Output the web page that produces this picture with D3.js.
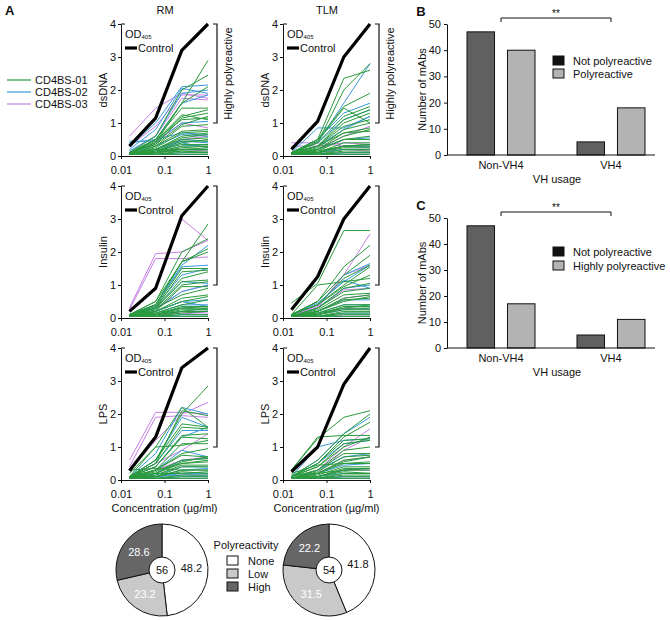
<!DOCTYPE html>
<html><head><meta charset="utf-8">
<script src="https://cdn.jsdelivr.net/npm/d3@7/dist/d3.min.js"></script>
<style>
body{margin:0;background:#fff}
svg text{font-family:"Liberation Sans",Arial,sans-serif;fill:#111}
</style></head>
<body><svg id="c" width="670" height="620"></svg>
<script>
// ---------- DATA ----------
const concentrations = [0.015625, 0.0625, 0.25, 1];
const xTicks = [0.01, 0.1, 1];
const yTicks = [0, 1, 2, 3, 4];
const groups = ["CD4BS-01", "CD4BS-02", "CD4BS-03"];
const antigens = ["dsDNA", "Insulin", "LPS"];
const sources = ["RM", "TLM"];

// control curves (OD405)
const ctrlRM = [[0.3,1.15,3.2,4.0],[0.2,0.9,3.1,4.0],[0.28,1.3,3.4,4.0]];
const ctrlTLM = [[0.2,1.05,3.0,4.0],[0.25,1.25,3.0,4.0],[0.25,1.0,2.9,4.0]];

// each mAb: [group(1..3), OD at the 4 concentrations]
const rmDsDNA = [
[3,.6,1.45,1.9,1.75],[3,.3,.9,1.85,1.85],[3,.15,.6,1.75,1.7],[3,.1,.4,1.0,.85],[3,.05,.2,.5,.6],[3,.05,.1,.2,.15],
[2,.3,1.0,2.1,2.15],[2,.2,.8,2.05,1.9],[2,.15,.6,1.9,2.0],[2,.1,.5,1.6,1.85],[2,.45,.45,1.0,1.05],[2,.4,.5,.7,.65],
[2,.1,.3,.65,.6],[2,.1,.2,.45,.4],[2,.05,.1,.3,.35],[2,.05,.1,.2,.2],[2,.05,.05,.1,.1],[2,.05,.15,.4,.25],[2,.05,.1,.5,.45],[2,.05,.05,.05,.05],
[1,.1,.5,1.6,2.9],[1,.1,.6,2.0,2.45],[1,.1,.4,1.6,2.1],[1,.1,.5,1.45,1.45],[1,.1,.4,1.2,1.4],[1,.1,.35,1.15,1.3],[1,.1,.45,1.25,1.1],
[1,.05,.5,1.1,1.15],[1,.1,.35,.95,1.2],[1,.05,.3,.75,.8],[1,.05,.25,.7,.75],[1,.05,.2,.6,.7],[1,.05,.2,.5,.55],[1,.05,.15,.45,.45],
[1,.05,.1,.4,.5],[1,.05,.15,.35,.35],[1,.05,.1,.3,.3],[1,.05,.1,.25,.3],[1,.05,.1,.2,.2],[1,.05,.05,.15,.15],[1,.05,.05,.1,.1],
[1,.05,.05,.05,.05],[1,.1,.2,.2,.25],[1,.05,.1,.15,.1],[1,.05,.3,.9,.95],[1,.05,.2,.55,.65]
];
const rmInsulin = [
[3,.3,1.95,2.0,2.35],[3,.25,1.8,1.8,1.85],[3,.2,.85,3.0,2.35],[3,.1,.3,.8,1.0],[3,.05,.1,.2,.15],[3,.05,.1,.15,.1],
[2,.1,.4,1.6,2.2],[2,.1,.4,1.55,1.6],[2,.1,.35,1.3,1.5],[2,.1,.3,1.1,1.05],[2,.05,.25,.8,1.0],[2,.05,.2,.5,.55],
[2,.05,.15,.4,.4],[2,.05,.1,.3,.25],[2,.05,.1,.2,.2],[2,.05,.05,.1,.1],[2,.05,.2,.5,.35],[2,.05,.05,.05,.05],
[1,.1,.5,1.7,2.85],[1,.1,.5,2.0,2.4],[1,.1,.4,1.7,2.1],[1,.1,.4,1.7,2.0],[1,.1,.35,1.5,1.5],[1,.1,.3,1.4,1.45],[1,.1,.3,1.2,1.4],
[1,.05,.3,1.1,1.15],[1,.05,.25,1.0,1.1],[1,.05,.2,.95,.95],[1,.05,.2,.6,.7],[1,.05,.2,.5,.65],[1,.05,.15,.4,.55],[1,.05,.1,.35,.35],
[1,.05,.1,.3,.3],[1,.05,.1,.25,.25],[1,.05,.05,.2,.2],[1,.05,.05,.15,.2],[1,.05,.05,.1,.1],[1,.05,.05,.05,.05],[1,.1,.15,.3,.35],
[1,.05,.1,.2,.3],[1,.05,.3,.7,.9]
];
const rmLPS = [
[3,.6,2.05,2.05,2.0],[3,.4,1.9,1.95,1.9],[3,.3,1.2,2.0,2.35],[3,.1,.5,.9,1.4],[3,.05,.3,.6,.7],[3,.05,.1,.2,.1],
[2,.1,.8,2.2,2.0],[2,.1,.6,1.9,1.6],[2,.1,.5,1.5,1.5],[2,.1,.4,1.3,1.6],[2,.1,.3,.9,.7],[2,.05,.2,.6,.65],
[2,.05,.15,.4,.4],[2,.05,.1,.3,.35],[2,.05,.1,.2,.2],[2,.05,.05,.1,.1],[2,.05,.05,.05,.05],[2,.1,.1,.15,.15],
[1,.1,.6,2.0,2.85],[1,.1,.5,2.1,1.95],[1,.2,1.0,2.2,1.6],[1,.1,.6,1.7,1.6],[1,.1,.5,1.6,1.55],[1,.1,.4,1.35,1.4],
[1,.1,.4,1.3,1.25],[1,.1,.3,1.1,1.1],[1,.1,1.0,1.05,1.2],[1,.05,.3,.8,.95],[1,.05,.3,.75,.7],[1,.05,.25,.6,.65],
[1,.05,.2,.5,.55],[1,.05,.15,.45,.45],[1,.05,.1,.4,.4],[1,.05,.1,.3,.3],[1,.05,.1,.25,.2],[1,.05,.05,.15,.15],
[1,.05,.05,.1,.1],[1,.05,.05,.05,.05],[1,.3,.35,.3,.3],[1,.1,.2,.2,.25],[1,.05,.2,.55,.7],[1,.1,.3,.5,.6]
];
const tlmDsDNA = [
[3,.4,.4,.3,.3],[3,.3,.3,.4,.35],[3,.05,.2,.6,.9],[3,.05,.1,.3,.25],[3,.05,.1,.2,.15],[3,.05,.05,.1,.1],
[2,.1,.4,1.6,2.8],[2,.1,.85,.85,1.2],[2,.1,.5,1.3,1.6],[2,.1,.4,1.1,1.4],[2,.05,.3,.8,1.2],[2,.05,.2,.5,.55],
[2,.05,.1,.3,.3],[2,.05,.1,.2,.2],[2,.05,.05,.1,.1],[2,.05,.05,.05,.05],
[1,.1,.5,2.35,2.6],[1,.1,.4,2.0,2.8],[1,.1,.5,1.5,1.9],[1,.1,.45,1.45,1.0],[1,.1,.4,1.2,1.5],[1,.1,.3,1.1,1.4],
[1,.1,.3,1.0,1.3],[1,.05,.3,.9,1.1],[1,.05,.25,.8,1.0],[1,.05,.2,.7,.85],[1,.05,.2,.6,.8],[1,.05,.15,.5,.5],
[1,.05,.1,.4,.4],[1,.05,.1,.3,.35],[1,.05,.1,.3,.3],[1,.05,.1,.25,.25],[1,.05,.05,.2,.2],[1,.05,.05,.15,.15],
[1,.05,.05,.1,.1],[1,.05,.05,.05,.05],[1,.1,.15,.3,.35],[1,.05,.2,.5,.6],[1,.1,.3,.7,.75]
];
const tlmInsulin = [
[3,.1,.35,1.3,2.55],[3,.1,.3,1.3,1.6],[3,.05,.3,.85,.9],[3,.05,.2,.6,.7],[3,.05,.1,.3,.25],[3,.05,.05,.1,.1],
[2,.1,.5,1.3,1.65],[2,.1,.45,1.1,1.6],[2,.1,.4,1.15,.9],[2,.05,.3,.9,1.0],[2,.05,.2,.55,.55],[2,.05,.15,.4,.4],
[2,.05,.1,.25,.3],[2,.05,.05,.15,.15],[2,.05,.05,.05,.05],
[1,.45,1.05,2.65,2.65],[1,.1,.5,1.55,2.2],[1,.1,.5,1.3,1.9],[1,.1,.4,1.2,1.6],[1,.1,.4,1.0,1.55],[1,.1,1.0,1.1,1.2],
[1,.1,.4,.95,1.3],[1,.05,.3,.9,1.05],[1,.05,.3,.8,.9],[1,.05,.25,.7,.75],[1,.05,.2,.6,.7],[1,.05,.2,.5,.65],
[1,.05,.15,.4,.4],[1,.05,.1,.35,.35],[1,.05,.1,.3,.3],[1,.05,.1,.25,.25],[1,.05,.05,.2,.2],[1,.05,.05,.15,.15],
[1,.05,.05,.1,.1],[1,.05,.05,.05,.05],[1,.1,.15,.3,.4],[1,.05,.2,.55,.6]
];
const tlmLPS = [
[3,.05,.3,1.0,1.55],[3,.05,.2,.9,1.3],[3,.05,.2,.6,.7],[3,.05,.1,.3,.3],[3,.05,.05,.1,.1],
[2,.1,.6,1.4,1.9],[2,.1,1.0,1.2,1.25],[2,.1,.5,1.1,1.2],[2,.05,.3,.7,.8],[2,.05,.2,.45,.5],[2,.05,.1,.3,.35],
[2,.05,.1,.2,.2],[2,.05,.05,.1,.1],[2,.05,.05,.05,.05],
[1,.3,1.25,1.9,2.1],[1,.3,1.3,1.35,1.35],[1,.1,.6,1.4,2.0],[1,.1,.5,1.3,1.75],[1,.1,.5,1.2,1.25],[1,.1,.4,1.1,1.2],
[1,.1,.4,1.0,1.3],[1,.1,.3,.9,1.0],[1,.05,.3,.8,.8],[1,.05,.25,.7,.75],[1,.05,.2,.6,.7],[1,.05,.2,.5,.55],
[1,.05,.15,.4,.4],[1,.05,.1,.35,.35],[1,.05,.1,.3,.3],[1,.05,.1,.25,.2],[1,.05,.05,.2,.2],[1,.05,.05,.15,.15],
[1,.05,.05,.1,.1],[1,.05,.05,.05,.05],[1,.15,.2,.3,.35],[1,.05,.2,.55,.7],[1,.2,.45,.5,.5]
];

// pies
const pieLabels = ["None", "Low", "High"];
const pieRM = [48.2, 23.2, 28.6];
const pieTLM = [41.8, 31.5, 22.2];
const pieN = [56, 54];

// bars
const vhCategories = ["Non-VH4", "VH4"];
const barKeysB = ["Not polyreactive", "Polyreactive"];
const barB = [[47, 40], [5, 18]];
const barKeysC = ["Not polyreactive", "Highly polyreactive"];
const barC = [[47, 17], [5, 11]];
const barTicks = [0, 10, 20, 30, 40, 50];

// ---------- STYLE ----------
const lineColors = {1: "#2a9a3c", 2: "#3a9ad9", 3: "#c77fe6"};
const FONT = '"Liberation Sans", Arial, sans-serif';
const svg = d3.select("#c");

function txt(g, x, y, s, opt = {}) {
  const t = g.append("text").attr("x", x).attr("y", y).text(s)
    .attr("font-size", opt.size || 11)
    .attr("text-anchor", opt.anchor || "start")
    .attr("dominant-baseline", "central");
  if (opt.bold) t.attr("font-weight", "bold");
  if (opt.fill) t.style("fill", opt.fill);
  if (opt.rotate) t.attr("transform", `rotate(-90,${x},${y})`);
  return t;
}

function styleAxis(g) {
  g.attr("font-family", FONT).attr("font-size", 11);
  g.selectAll("path,line").attr("stroke", "#111").attr("stroke-width", 1);
  g.selectAll("text").style("fill", "#111");
}

// ---------- PANEL A ----------
txt(svg, 5, 10, "A", {size: 13, bold: true});
const panelX = [121, 283];
const rowTop = [24, 186, 348];
const pH = 132, pW = 87;
txt(svg, panelX[0] + 44, 10, "RM", {anchor: "middle"});
txt(svg, panelX[1] + 44, 10, "TLM", {anchor: "middle"});

const panelData = [[rmDsDNA, rmInsulin, rmLPS], [tlmDsDNA, tlmInsulin, tlmLPS]];
const ctrlData = [ctrlRM, ctrlTLM];

for (let c = 0; c < 2; c++) {
  for (let r = 0; r < 3; r++) {
    const x0 = panelX[c], y0 = rowTop[r];
    const x = d3.scaleLog().domain([0.01, 1]).range([x0, x0 + pW]);
    const y = d3.scaleLinear().domain([0, 4]).range([y0 + pH, y0]);
    const g = svg.append("g");
    const line = d3.line().x((d, i) => x(concentrations[i])).y(d => y(d));
    g.selectAll("path.mab").data(panelData[c][r]).join("path")
      .attr("class", "mab")
      .attr("d", d => line(d.slice(1)))
      .attr("fill", "none")
      .attr("stroke", d => lineColors[d[0]])
      .attr("stroke-width", 1);
    g.append("path").attr("d", line(ctrlData[c][r]))
      .attr("fill", "none").attr("stroke", "#000").attr("stroke-width", 3.2)
      .attr("stroke-linejoin", "round");
    const ya = g.append("g").attr("transform", `translate(${x0},0)`)
      .call(d3.axisLeft(y).tickValues(yTicks).tickFormat(d3.format("d")).tickSize(3).tickPadding(2).tickSizeOuter(0));
    styleAxis(ya);
    g.append("line").attr("x1", x0).attr("x2", x0 + 4).attr("y1", y(4)).attr("y2", y(4)).attr("stroke", "#111");
    const xa = g.append("g").attr("transform", `translate(0,${y0 + pH})`)
      .call(d3.axisBottom(x).tickValues(xTicks).tickFormat(d => String(d)).tickSize(3).tickPadding(7).tickSizeOuter(0));
    styleAxis(xa);
    txt(g, x0 - 18, y0 + pH / 2, antigens[r], {anchor: "middle", rotate: true});
    // OD405 / Control legend
    const od = g.append("text").attr("x", x0 + 4).attr("y", y0 + 10).attr("font-size", 11)
      .attr("dominant-baseline", "central");
    od.append("tspan").text("OD");
    od.append("tspan").text("405").attr("font-size", 6).attr("dy", 3);
    g.append("line").attr("x1", x0 + 4).attr("x2", x0 + 16).attr("y1", y0 + 24).attr("y2", y0 + 24)
      .attr("stroke", "#000").attr("stroke-width", 3.2);
    txt(g, x0 + 17, y0 + 24, "Control");
    // bracket
    const bx = x0 + pW + 9;
    g.append("path").attr("d", `M${bx - 4},${y(4)}H${bx}V${y(1)}H${bx - 4}`)
      .attr("fill", "none").attr("stroke", "#111").attr("stroke-width", 1.2);
    if (r === 0) txt(g, bx + 11, (y(4) + y(1)) / 2, "Highly polyreactive", {anchor: "middle", rotate: true});
    if (r === 2) txt(g, x0 + pW / 2, y0 + pH + 28, "Concentration (\u00b5g/ml)", {anchor: "middle"});
  }
}

// line legend
const lgY = [80, 92, 104];
groups.forEach((name, i) => {
  svg.append("line").attr("x1", 7).attr("x2", 31).attr("y1", lgY[i]).attr("y2", lgY[i])
    .attr("stroke", lineColors[i + 1]).attr("stroke-width", 1.2);
  txt(svg, 35, lgY[i], name);
});

// ---------- PIES ----------
const pieColors = ["#ffffff", "#c9c9c9", "#666666"];
const pieTextFill = ["#111", "#fff", "#fff"];
const pieGen = d3.pie().sort(null).value(d => d);
const arc = d3.arc().innerRadius(13).outerRadius(46);
const pieCx = [162, 329];
[pieRM, pieTLM].forEach((vals, k) => {
  const g = svg.append("g").attr("transform", `translate(${pieCx[k]},570)`);
  const arcs = pieGen(vals);
  g.selectAll("path").data(arcs).join("path")
    .attr("d", d3.arc().innerRadius(0).outerRadius(46))
    .attr("fill", (d, i) => pieColors[i]).attr("stroke", "#111").attr("stroke-width", 1);
  g.append("circle").attr("r", 13).attr("fill", "#fff").attr("stroke", "#111").attr("stroke-width", 1);
  txt(g, 0, 0, String(pieN[k]), {anchor: "middle"});
  arcs.forEach((a, i) => {
    const [cx, cy] = arc.centroid(a);
    txt(g, cx, cy, vals[i].toFixed(1), {anchor: "middle", fill: pieTextFill[i]});
  });
});
txt(svg, 246, 545, "Polyreactivity", {anchor: "middle"});
const plY = [561, 574, 587];
pieLabels.forEach((n, i) => {
  svg.append("rect").attr("x", 227).attr("y", plY[i] - 5).attr("width", 11).attr("height", 9)
    .attr("fill", pieColors[i]).attr("stroke", "#111").attr("stroke-width", 1);
  txt(svg, 248, plY[i], n);
});

// ---------- BARS ----------
const barFill = ["#606060", "#b3b3b3"];
const legFill = ["#111111", "#b3b3b3"];
const AX = 447;
function barChart(letter, top, bottom, data, keys, legY) {
  const g = svg.append("g");
  const y = d3.scaleLinear().domain([0, 50]).range([bottom, top]);
  const x = d3.scalePoint().domain(vhCategories).range([AX, 665]).padding(0.491);
  const xi = d3.scaleBand().domain([0, 1]).range([-34, 34]).paddingInner(0.32);
  txt(g, 421, top - 13, letter, {size: 13, bold: true, anchor: "middle"});
  vhCategories.forEach((cat, ci) => {
    g.selectAll(null).data(data[ci]).join("rect")
      .attr("x", (d, i) => x(cat) + xi(i)).attr("width", xi.bandwidth())
      .attr("y", d => y(d)).attr("height", d => y(0) - y(d))
      .attr("fill", (d, i) => barFill[i]).attr("stroke", "#111").attr("stroke-width", 1);
  });
  const ya = g.append("g").attr("transform", `translate(${AX},0)`)
    .call(d3.axisLeft(y).tickValues(barTicks).tickSize(3).tickPadding(3).tickSizeOuter(0));
  styleAxis(ya);
  g.append("line").attr("x1", AX).attr("x2", 655).attr("y1", y(0)).attr("y2", y(0)).attr("stroke", "#111");
  vhCategories.forEach(cat => txt(g, x(cat), bottom + 10, cat, {anchor: "middle"}));
  txt(g, 557, bottom + 24, "VH usage", {anchor: "middle"});
  txt(g, 422, (top + bottom) / 2, "Number of mAbs", {anchor: "middle", rotate: true});
  // significance bracket
  const by = top - 6;
  g.append("path").attr("d", `M${x(vhCategories[0])},${by + 4}V${by}H${x(vhCategories[1])}V${by + 4}`)
    .attr("fill", "none").attr("stroke", "#111").attr("stroke-width", 1);
  txt(g, (x(vhCategories[0]) + x(vhCategories[1])) / 2, by - 5, "**", {anchor: "middle", size: 10});
  keys.forEach((k, i) => {
    g.append("rect").attr("x", 553).attr("y", legY[i] - 5).attr("width", 11).attr("height", 9)
      .attr("fill", legFill[i]).attr("stroke", "#111").attr("stroke-width", 1);
    txt(g, 573, legY[i], k);
  });
}
barChart("B", 24, 155, barB, barKeysB, [61, 74]);
barChart("C", 218, 348, barC, barKeysC, [252, 266]);
</script></body></html>
